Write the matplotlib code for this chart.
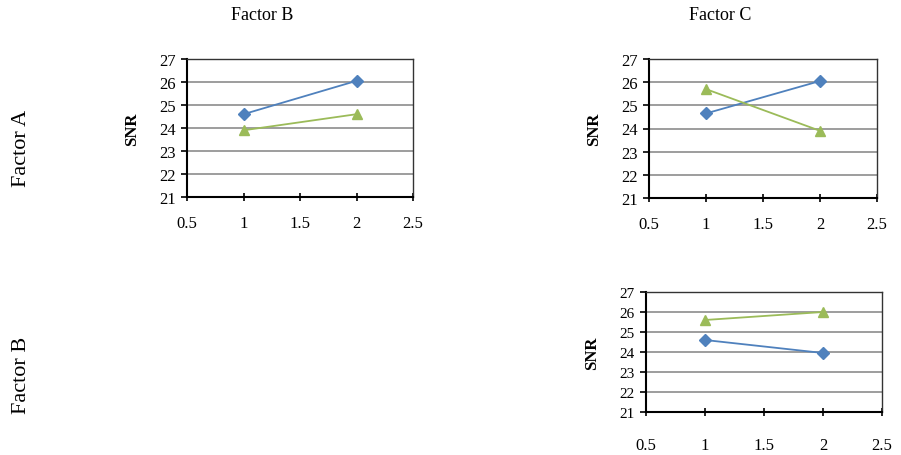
import matplotlib
matplotlib.use('Agg')
import matplotlib.pyplot as plt

plt.rcParams['font.family'] = ['Liberation Serif', 'DejaVu Serif']

# Data
levels = [1, 2]
ab_blue = [24.6, 26.05]
ab_green = [23.9, 24.6]
ac_blue = [24.65, 26.05]
ac_green = [25.7, 23.9]
bc_blue = [24.6, 23.95]
bc_green = [25.6, 26.0]

x_ticks = [0.5, 1, 1.5, 2, 2.5]
x_tick_labels = ['0.5', '1', '1.5', '2', '2.5']
y_ticks = [21, 22, 23, 24, 25, 26, 27]

blue = '#4F81BD'
green = '#9BBB59'


def draw_panel(ax, blue_vals, green_vals, ysize=12, xpad=10):
    ax.set_xlim(0.5, 2.5)
    ax.set_ylim(21, 27)
    ax.set_xticks(x_ticks)
    ax.set_xticklabels(x_tick_labels)
    ax.set_yticks(y_ticks)
    ax.grid(axis='y', color='#8c8c8c', linewidth=1.2)
    ax.set_axisbelow(True)
    for side in ['left', 'bottom']:
        ax.spines[side].set_color('black')
        ax.spines[side].set_linewidth(1.5)
    for side in ['top', 'right']:
        ax.spines[side].set_color('#333333')
        ax.spines[side].set_linewidth(1.0)
    ax.tick_params(axis='x', direction='inout', length=6, width=1.2, labelsize=12, pad=xpad)
    ax.tick_params(axis='y', direction='out', length=4, width=1.2, labelsize=ysize, pad=4)
    ax.plot(levels, blue_vals, color=blue, marker='D', markersize=6, linewidth=1.3, clip_on=False)
    ax.plot(levels, green_vals, color=green, marker='^', markersize=7, linewidth=1.3, clip_on=False)
    ax.set_ylabel('SNR', fontsize=12, fontweight='bold', labelpad=14)


fig = plt.figure(figsize=(9.01, 4.56), dpi=100)

ax1 = fig.add_axes([187 / 901, 1 - 198 / 456, 226 / 901, 138 / 456])
draw_panel(ax1, ab_blue, ab_green)

ax2 = fig.add_axes([649 / 901, 1 - 199 / 456, 228 / 901, 139 / 456])
draw_panel(ax2, ac_blue, ac_green)

ax3 = fig.add_axes([646 / 901, 1 - 413 / 456, 236 / 901, 120 / 456])
draw_panel(ax3, bc_blue, bc_green, ysize=11, xpad=15)

# Column and row headings
fig.text(262 / 901, 1 - 16 / 456, 'Factor B', ha='center', va='center', fontsize=13)
fig.text(720 / 901, 1 - 16 / 456, 'Factor C', ha='center', va='center', fontsize=13)
fig.text(21 / 901, 1 - 148 / 456, 'Factor A', ha='center', va='center', fontsize=16, rotation=90)
fig.text(21 / 901, 1 - 375 / 456, 'Factor B', ha='center', va='center', fontsize=16, rotation=90)

fig.savefig('out.png', dpi=100)
